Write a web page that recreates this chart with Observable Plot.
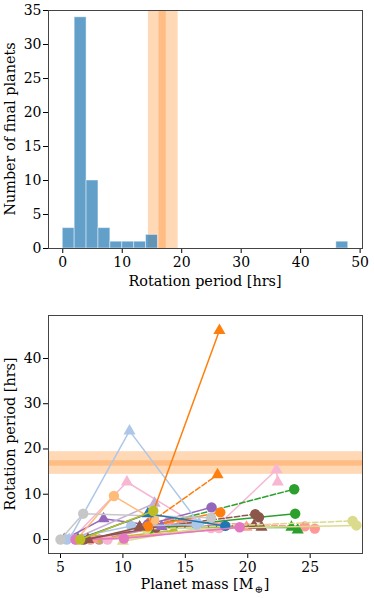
<!DOCTYPE html>
<html><head><meta charset="utf-8">
<script src="https://cdn.jsdelivr.net/npm/d3@7"></script>
<script src="https://cdn.jsdelivr.net/npm/@observablehq/plot@0.6"></script>
<style>
body{margin:0;background:#fff;}
svg{display:block;}
</style>
</head><body><div id="chart"></div>
<script>
// ---- Histogram data (top panel) ----
const histBinStart = [0, 2, 4, 6, 8, 10, 12, 14, 46];
const histBinWidth = 2;
const histCount = [3, 34, 10, 3, 1, 1, 1, 2, 1];
const refSpanOuter = [14.4, 19.4];
const refSpanInner = [16.2, 17.4];
const histXTicks = [0, 10, 20, 30, 40, 50];
const histYTicks = [0, 5, 10, 15, 20, 25, 30, 35];

// ---- Mass / rotation tracks (bottom panel), drawn in this order ----
const massTicks = [5, 10, 15, 20, 25];
const periodTicks = [0, 10, 20, 30, 40];
const seriesTab = [11, 16, 12, 13, 13, 13, 7, 7, 7, 4, 10, 4, 10, 4, 10, 2, 2, 8, 17, 17, 8, 9, 3, 1, 1, 15, 2, 0, 12, 10, 16];
const seriesDashed = [false,false,false,false,false,false,false,false,true,false,false,false,false,true,true,false,true,false,true,false,false,false,false,false,false,false,false,false,false,false,false];
const seriesMass = [
  [8.1, 14.8], [7.8, 14.07], [6.7, 15.5], [8.77, 17.06, 17.7], [5.9, 10.32, 15.6], [17.4, 22.3, 22.4],
  [7.4, 13.7], [7.6, 19.9], [13.7, 24.57, 25.37], [12.5, 23.5, 24.0], [11.34, 20.5, 21.1], [12.2, 23.8],
  [6.85, 12.65], [12.0, 23.72], [12.65, 20.6, 20.9], [12.0, 17.8], [12.2, 17.58], [12.0, 17.1],
  [11.9, 28.4], [10.0, 16.0, 28.7], [5.3, 8.45, 13.1], [6.0, 12.54], [6.3, 9.28, 12.5],
  [5.5, 10.67, 15.9], [5.7, 10.53, 16.1], [5.0, 6.82, 17.06], [12.0, 17.73], [6.4, 12.0, 18.2],
  [6.2, 10.08, 19.35], [7.2, 11.34], [6.58, 12.43]
];
const seriesPeriod = [
  [0, 3.8], [0, 2.0], [0, 3.6], [0, 2.5, 2.5], [0, 12.7, 3.8], [2.6, 15.4, 12.7],
  [0, 4.0], [0, 2.7], [4.0, 2.9, 2.4], [2.6, 2.7, 2.1], [2.7, 3.1, 2.7], [2.5, 5.7],
  [0, 2.7], [2.7, 11.1], [2.7, 5.6, 4.9], [2.9, 6.0], [3.8, 14.3], [3.3, 7.1],
  [2.3, 4.1], [-0.4, 2.4, 3.1], [0, 4.6, 2.8], [0, 8.0], [0, 9.6, 4.3],
  [0, 3.0, 3.3], [0, 24.0, 3.6], [0, 5.7, 4.8], [2.9, 46.2], [0, 5.7, 3.0],
  [0, 0.2, 2.7], [0, 2.7], [0, 6.3]
];
const seriesMarker = [
  "oo", "^^", "^^", "ooo", "^^^", "^^^",
  "oo", "^^", "ooo", "^^^", "^^^", "oo",
  "oo", "oo", "ooo", "oo", "o^", "oo",
  "oo", "^^o", "^^^", "^^", "ooo",
  "ooo", "^^^", "ooo", "o^", "^^o",
  "ooo", "^^", "oo"
];

const tab20 = ["#1f77b4","#aec7e8","#ff7f0e","#ffbb78","#2ca02c","#98df8a","#d62728","#ff9896","#9467bd","#c5b0d5",
               "#8c564b","#c49c94","#e377c2","#f7b6d2","#7f7f7f","#c7c7c7","#bcbd22","#dbdb8d","#17becf","#9edae5"];

const font = "DejaVu Serif";
const fs = 14;
const baseStyle = {fontFamily: font, fontSize: fs + "px", color: "black", background: "white", overflow: "visible"};

// ---- Top panel ----
const hist = histBinStart.map((s, i) => ({x1: s, x2: s + histBinWidth, count: histCount[i]}));
const topPlot = Plot.plot({
  width: 374, height: 300,
  marginLeft: 48, marginRight: 12, marginTop: 10, marginBottom: 52,
  style: baseStyle,
  x: {domain: [-2.4, 50.4], ticks: histXTicks, tickSize: 5, tickPadding: 3.5, label: null},
  y: {domain: [0, 35], ticks: histYTicks, tickSize: 5, tickPadding: 2, label: null},
  marks: [
    Plot.rect([refSpanOuter], {x1: d => d[0], x2: d => d[1], fill: "#ff7f0e", fillOpacity: 0.3}),
    Plot.rect([refSpanInner], {x1: d => d[0], x2: d => d[1], fill: "#ff7f0e", fillOpacity: 0.3}),
    Plot.rectY(hist, {x1: "x1", x2: "x2", y: "count", fill: "#1f77b4", fillOpacity: 0.7,
      stroke: "white", strokeWidth: 1, strokeOpacity: 0.45}),
    Plot.frame({stroke: "#444"})
  ]
});

// ---- Bottom panel ----
const bottomMarks = [
  Plot.rect([refSpanOuter], {y1: d => d[0], y2: d => d[1], fill: "#ff7f0e", fillOpacity: 0.3}),
  Plot.rect([refSpanInner], {y1: d => d[0], y2: d => d[1], fill: "#ff7f0e", fillOpacity: 0.3})
];
seriesMass.forEach((mass, i) => {
  const color = tab20[seriesTab[i]];
  const pts = mass.map((m, j) => ({m, p: seriesPeriod[i][j], k: seriesMarker[i][j]}));
  bottomMarks.push(Plot.line(pts, {x: "m", y: "p", stroke: color, strokeWidth: 1.5,
    strokeDasharray: seriesDashed[i] ? "5.5,2.4" : null}));
  bottomMarks.push(Plot.dot(pts.filter(d => d.k === "o"), {x: "m", y: "p", r: 5.2, fill: color, symbol: "circle"}));
  bottomMarks.push(Plot.dot(pts.filter(d => d.k === "^"), {x: "m", y: "p", r: 4.5, fill: color, symbol: "triangle"}));
});
bottomMarks.push(Plot.frame({stroke: "#444"}));

const bottomPlot = Plot.plot({
  width: 374, height: 298,
  marginLeft: 48, marginRight: 12, marginTop: 15, marginBottom: 45,
  style: baseStyle,
  x: {domain: [4.04, 29.19], ticks: massTicks, tickSize: 5, tickPadding: 3.5, label: null},
  y: {domain: [-3.1, 49.5], ticks: periodTicks, tickSize: 5, tickPadding: 2, label: null},
  marks: bottomMarks
});

// ---- axis labels ----
function addLabels(svg, xText, yText, xBase, frameTop, frameBottom, sub) {
  const s = d3.select(svg);
  const t = s.append("text").attr("x", 205).attr("y", xBase).attr("text-anchor", "middle")
    .attr("font-family", font).attr("font-size", 14.4).attr("fill", "black");
  if (sub) {
    t.append("tspan").text(xText);
    t.append("tspan").attr("dy", 3.5).attr("font-size", 10).attr("dx", 1).text("⊕");
    t.append("tspan").attr("dy", -3.5).attr("dx", 1).text("]");
  } else t.text(xText);
  s.append("text").attr("transform", `translate(15,${(frameTop + frameBottom) / 2}) rotate(-90)`)
    .attr("text-anchor", "middle").attr("font-family", font).attr("font-size", 14.4).attr("fill", "black")
    .text(yText);
}
addLabels(topPlot, "Rotation period [hrs]", "Number of final planets", 285.5, 10, 248, false);
addLabels(bottomPlot, "Planet mass [M", "Rotation period [hrs]", 289, 15, 253, true);

const root = document.getElementById("chart");
root.appendChild(topPlot);
root.appendChild(bottomPlot);
</script>
</body></html>
